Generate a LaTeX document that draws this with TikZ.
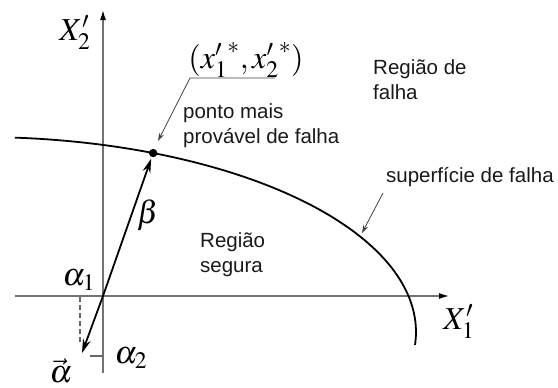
\documentclass[tikz,border=0pt]{standalone}
\usepackage{mathptmx}
\usepackage{fontspec}
\setmainfont{Liberation Sans}
\usetikzlibrary{arrows.meta,calc}
\begin{document}
\begin{tikzpicture}[x=1pt,y=-1pt,
  axis/.style={draw=black!55,line width=1.3pt,-{Latex[length=10pt,width=6pt,black]}},
  curve/.style={draw=black,line width=1.8pt},
  vecline/.style={draw=black,line width=1.8pt},
  leader/.style={draw=black!75,line width=0.8pt},
  lbl/.style={font=\fontsize{20.5}{25}\selectfont,inner sep=0pt,align=left,anchor=west,text=black!90},
  mlbl/.style={font=\fontsize{32}{36}\selectfont,inner sep=0pt}]
\useasboundingbox (0,0) rectangle (558,388);
% axes
\coordinate (O) at (103,296);
\coordinate (xl) at (15,296);
\coordinate (xr) at (449,296);
\coordinate (yb) at (103,373);
\coordinate (yt) at (103,10);
\draw[axis] (xl) -- (xr);
\draw[axis] (yb) -- (yt);
% failure surface (elliptic arc)
\draw[curve] plot[domain=85.4:-3.8,samples=80,smooth] ({-20+436*cos(\x)},{332-195*sin(\x)});
% design point
\coordinate (P) at ({-20+436*cos(66.6)},{332-195*sin(66.6)});
\fill (P) circle (4.2pt);
\coordinate (A) at (82,353);
\draw[vecline,-{Stealth[length=14pt,width=8pt]}] (O) -- ($(O)!0.96!(P)$);
\draw[vecline,-{Stealth[length=14pt,width=8pt]}] (O) -- (A);
% components
\coordinate (d1) at (80,297);
\coordinate (d2) at (80,342);
\draw[black!60,line width=1.1pt,dash pattern=on 5pt off 3pt] (d1) -- (d2);
\coordinate (t1) at (90,356);
\coordinate (t2) at (103,356);
\draw[black!60,line width=1.1pt] (t1) -- (t2);
% math labels
\node[mlbl] (X2) at (75,33) {$X'_2$};
\node[mlbl] (X1) at (459,322) {$X'_1$};
\node[mlbl] (xs) at (246,60) {$({x'_1}^{*},{x'_2}^{*})$};
\node[mlbl] (beta) at (148,215) {$\beta$};
\node[mlbl] (a1) at (79,280) {$\alpha_1$};
\node[mlbl] (a2) at (131,358) {$\alpha_2$};
\node[mlbl] (av) at (61,371) {$\vec{\alpha}$};
% text labels
\node[lbl] (pm) at (183,126) {ponto mais\\provável de falha};
\node[lbl] (rf) at (373,80) {Região de\\falha};
\node[lbl] (rs) at (200,255) {Região\\segura};
\node[lbl] (sf) at (386,177) {superfície de falha};
% leaders
\coordinate (l1) at (275,78);
\coordinate (l2) at (190,78);
\coordinate (l3) at (158,141);
\draw[leader,-{Stealth[length=8pt,width=5pt]}] (l1) -- (l2) -- (l3);
\coordinate (s1) at (383,193);
\coordinate (s2) at (362,233);
\draw[leader,-{Stealth[length=8pt,width=5pt]}] (s1) -- (s2);
\end{tikzpicture}
\end{document}
